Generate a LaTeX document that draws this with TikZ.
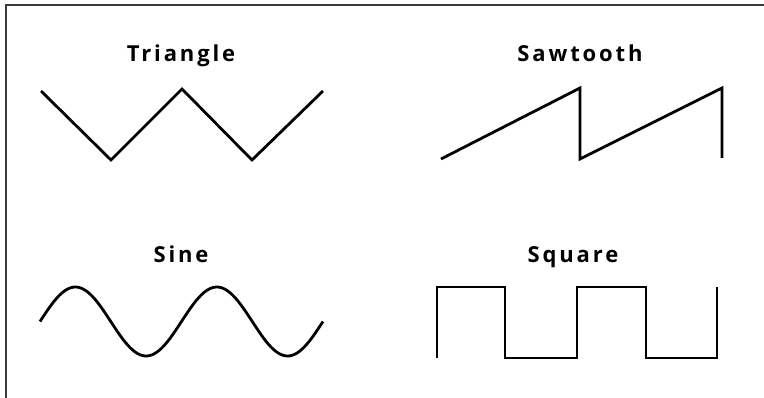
\documentclass[tikz,border=0pt]{standalone}
\usepackage{fontspec}
\setsansfont{Open Sans}[LetterSpace=13]
\usepackage{tikz}
\usetikzlibrary{positioning}
\definecolor{wvblack}{HTML}{000000}
\definecolor{wvframe}{HTML}{3A3A3A}
\tikzset{
  wave/.style  = {draw=wvblack, line width=2.8pt, line join=miter},
  frame/.style = {draw=wvframe, line width=1.4pt},
  lbl/.style   = {font=\fontsize{22}{26}\selectfont\sffamily\bfseries,
                  inner sep=0pt, anchor=base},
}

\begin{document}
\begin{tikzpicture}[x=1pt,y=-1pt]
  \useasboundingbox (0,0) rectangle (764,398);
  % frame
  \draw[frame] (764,5) -- (6,5) -- (6,398);
  % labels
  \node[lbl] (ltri) at (181,62) {Triangle};
  \node[lbl] (lsaw) at (580,62) {Sawtooth};
  \node[lbl] (lsin) at (181,263) {Sine};
  \node[lbl] (lsqu) at (573,263) {Square};
  % triangle
  \draw[wave] (41,91) -- (111,160) -- (182,89) -- (252,160) -- (323,91);
  % sawtooth
  \draw[wave] (441,159) -- (580,88) -- (580,159) -- (722,88) -- (722,158);
  % sine
  \draw[wave, line join=round] plot[domain=0:720, samples=120, smooth]
    ({40+\x/720*283}, {321.5-34.5*sin(\x)});
  % square
  \draw[wave] (437,358) -- (437,287) -- (505,287) -- (505,358) -- (577,358)
    -- (577,287) -- (646,287) -- (646,358) -- (717,358) -- (717,287);
\end{tikzpicture}
\end{document}
